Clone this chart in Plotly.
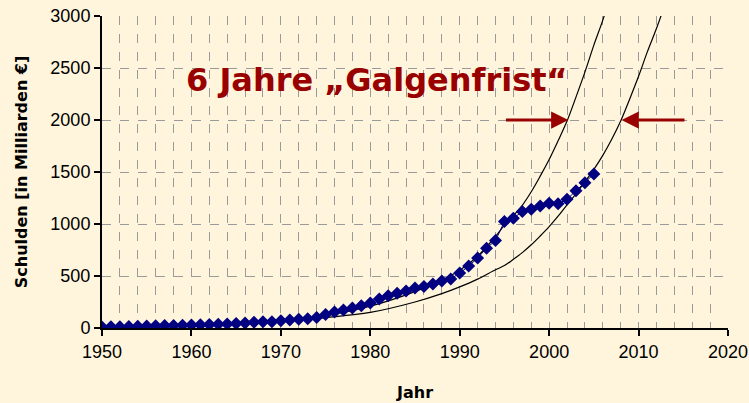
import plotly.graph_objects as go

# Debt data (Schulden in Milliarden €)
years = list(range(1950, 2006))
debt = [10, 11, 12, 14, 16, 20, 21, 23, 25, 27,
        29, 31, 33, 36, 39, 43, 47, 55, 59, 60,
        70, 78, 84, 90, 100, 130, 155, 172, 192, 214,
        240, 280, 310, 334, 356, 384, 400, 424, 452, 472,
        528, 595, 672, 768, 841, 1023, 1056, 1119, 1142, 1174,
        1200, 1195, 1238, 1320, 1397, 1481]

# Upper trend curve
trend_a_years = [1950, 1955, 1960, 1965, 1970, 1975, 1980, 1985, 1988, 1990, 1992,
                 1994, 1995, 1996, 1997, 1998, 1999, 2000, 2001, 2002, 2003, 2004,
                 2005, 2006, 2007]
trend_a_vals = [5, 12, 25, 42, 70, 120, 210, 350, 460, 555, 690,
                880, 990, 1080, 1180, 1310, 1460, 1620, 1800, 1990, 2220, 2460,
                2720, 2960, 3240]

# Lower trend curve
trend_b_years = [1950, 1955, 1960, 1965, 1970, 1975, 1980, 1985, 1988, 1990, 1992,
                 1994, 1995, 1996, 1997, 1998, 1999, 2000, 2001, 2002, 2003, 2004,
                 2005, 2006, 2007, 2008, 2009, 2010, 2011, 2012, 2013]
trend_b_vals = [5, 12, 24, 40, 62, 100, 150, 250, 330, 395, 470,
                560, 600, 660, 725, 800, 885, 975, 1075, 1185, 1290, 1405,
                1525, 1660, 1815, 1990, 2200, 2420, 2660, 2880, 3120]

x_ticks = [1950, 1960, 1970, 1980, 1990, 2000, 2010, 2020]
y_ticks = [0, 500, 1000, 1500, 2000, 2500, 3000]

title_text = "6 Jahre „Galgenfrist“"
arrow_level = 2000
arrow_left = (1995.0, 2002.15)
arrow_right = (2015.3, 2008.1)

bg = "#FFF5DC"
red = "#990000"
grid = "#9a9a9a"

plot_l, plot_r, plot_t, plot_b = 102, 728, 16, 328

fig = go.Figure()
fig.add_trace(go.Scatter(x=trend_a_years, y=trend_a_vals, mode="lines",
                         line=dict(color="black", width=1.2, shape="spline"),
                         hoverinfo="skip", showlegend=False))
fig.add_trace(go.Scatter(x=trend_b_years, y=trend_b_vals, mode="lines",
                         line=dict(color="black", width=1.2, shape="spline"),
                         hoverinfo="skip", showlegend=False))
fig.add_trace(go.Scatter(x=years, y=debt, mode="lines+markers",
                         line=dict(color="#000080", width=1),
                         marker=dict(symbol="diamond", size=10, color="#000080"),
                         showlegend=False))

fig.add_annotation(x=arrow_left[1], y=arrow_level, ax=arrow_left[0], ay=arrow_level,
                   xref="x", yref="y", axref="x", ayref="y", text="",
                   showarrow=True, arrowhead=2, arrowwidth=3, arrowsize=1.15,
                   arrowcolor=red)
fig.add_annotation(x=arrow_right[1], y=arrow_level, ax=arrow_right[0], ay=arrow_level,
                   xref="x", yref="y", axref="x", ayref="y", text="",
                   showarrow=True, arrowhead=2, arrowwidth=3, arrowsize=1.15,
                   arrowcolor=red)
fig.add_annotation(x=(377 - plot_l) / (plot_r - plot_l),
                   y=(plot_b - 80) / (plot_b - plot_t),
                   xref="paper", yref="paper", text=f"<b>{title_text}</b>",
                   showarrow=False, font=dict(family="DejaVu Sans", size=32, color=red),
                   xanchor="center", yanchor="middle")

axis_font = dict(family="Liberation Sans, Arial", size=18, color="black")

fig.update_layout(
    width=749, height=403,
    margin=dict(l=plot_l, r=749 - plot_r, t=plot_t, b=403 - plot_b),
    paper_bgcolor=bg, plot_bgcolor=bg,
    xaxis=dict(range=[1950, 2020], tickvals=x_ticks, ticks="outside", ticklen=6,
               tickwidth=1.5, tickcolor="black", automargin=False,
               showline=True, linecolor="black", linewidth=2,
               showgrid=True, gridcolor=grid, griddash="dash", gridwidth=1,
               minor=dict(dtick=2, tick0=1950, showgrid=True, gridcolor=grid,
                          griddash="dash", gridwidth=1),
               zeroline=False, tickfont=axis_font,
               title=dict(text="<b>Jahr</b>", font=dict(family="DejaVu Sans", size=16, color="black"),
                          standoff=26)),
    yaxis=dict(range=[0, 3000], tickvals=y_ticks, ticks="outside", ticklen=6,
               tickwidth=1.5, tickcolor="black", automargin=False,
               showline=True, linecolor="black", linewidth=2,
               showgrid=True, gridcolor=grid, griddash="dash", gridwidth=1.3,
               zeroline=False, tickfont=axis_font,
               title=dict(text="<b>Schulden [in Milliarden €]</b>",
                          font=dict(family="DejaVu Sans", size=16, color="black"),
                          standoff=19)),
)

fig.write_html("out.html", config={"displayModeBar": False},
               post_script="document.body.style.margin='0';document.body.style.background='%s';" % bg)
